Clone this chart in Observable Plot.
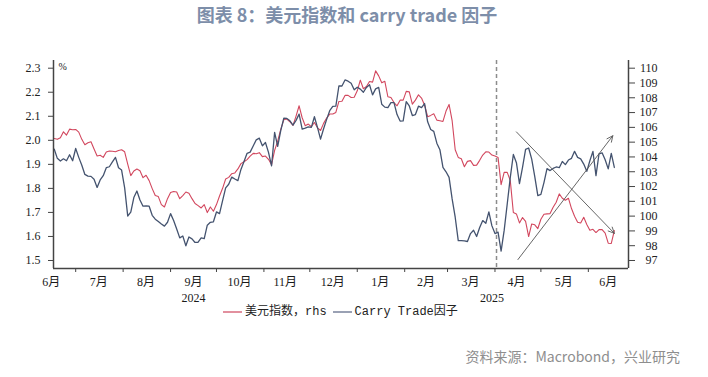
<!DOCTYPE html>
<html><head><meta charset="utf-8">
<script src="https://cdn.jsdelivr.net/npm/d3@7"></script>
<script src="https://cdn.jsdelivr.net/npm/@observablehq/plot@0.6"></script>
<style>
body{margin:0;background:#fff;}
#wrap{position:relative;width:708px;height:377px;overflow:hidden;font-family:"Noto Sans CJK SC","Noto Sans",sans-serif;}
#wrap svg{position:absolute;left:0;top:0;}
#title{position:absolute;left:0;top:2px;width:694px;text-align:center;font-size:18px;font-weight:bold;color:#7d8ea9;line-height:24px;}
#legend{position:absolute;left:223px;top:304px;font-size:12px;line-height:16px;color:#222;font-family:"Liberation Mono","Noto Sans CJK SC",monospace;white-space:nowrap;}
#legend .sw{display:inline-block;width:19px;height:2px;vertical-align:middle;margin-right:3px;}
#legend .item{display:inline-block;margin-right:6px;}
#source{position:absolute;right:28px;top:346px;font-size:14px;line-height:20px;color:#8e8e8e;}
</style></head>
<body>
<div id="wrap">
  <div id="title">图表 8：美元指数和 carry trade 因子</div>
  <div id="legend"></div>
  <div id="source">资料来源：Macrobond，兴业研究</div>
</div>
<script>
// ---- data ----
const dates = [
"2024-06-17","2024-06-19","2024-06-21","2024-06-23","2024-06-25","2024-06-27","2024-06-29",
"2024-07-01","2024-07-03","2024-07-05","2024-07-07","2024-07-09","2024-07-11","2024-07-13","2024-07-15","2024-07-17","2024-07-19","2024-07-21","2024-07-23","2024-07-25","2024-07-27","2024-07-29","2024-07-31",
"2024-08-02","2024-08-04","2024-08-06","2024-08-08","2024-08-10","2024-08-12","2024-08-14","2024-08-16","2024-08-18","2024-08-20","2024-08-22","2024-08-24","2024-08-26","2024-08-28","2024-08-30",
"2024-09-01","2024-09-03","2024-09-05","2024-09-07","2024-09-09","2024-09-11","2024-09-13","2024-09-15","2024-09-17","2024-09-19","2024-09-21","2024-09-23","2024-09-25","2024-09-27","2024-09-29",
"2024-10-01","2024-10-03","2024-10-05","2024-10-07","2024-10-09","2024-10-11",
"2024-10-13","2024-10-15","2024-10-17","2024-10-19","2024-10-21","2024-10-23","2024-10-25","2024-10-27","2024-10-29","2024-10-31",
"2024-11-02","2024-11-04","2024-11-06","2024-11-08","2024-11-10","2024-11-12","2024-11-14","2024-11-16","2024-11-18","2024-11-20","2024-11-22","2024-11-24","2024-11-26","2024-11-28","2024-11-30",
"2024-12-02","2024-12-04","2024-12-06","2024-12-08","2024-12-10","2024-12-12","2024-12-14","2024-12-16","2024-12-18","2024-12-20","2024-12-22","2024-12-24","2024-12-26","2024-12-28","2024-12-30",
"2025-01-01","2025-01-03","2025-01-05","2025-01-07","2025-01-09","2025-01-11","2025-01-13","2025-01-15","2025-01-17","2025-01-19","2025-01-21","2025-01-23","2025-01-25","2025-01-27","2025-01-29","2025-01-31",
"2025-02-02","2025-02-04","2025-02-06","2025-02-08","2025-02-10","2025-02-12","2025-02-14",
"2025-02-16","2025-02-18","2025-02-20","2025-02-22","2025-02-24","2025-02-26","2025-02-28",
"2025-03-02","2025-03-04","2025-03-06","2025-03-08","2025-03-10","2025-03-12","2025-03-14","2025-03-16","2025-03-18","2025-03-20","2025-03-22","2025-03-24","2025-03-26","2025-03-28","2025-03-30",
"2025-04-01","2025-04-03","2025-04-05","2025-04-07","2025-04-09","2025-04-11","2025-04-13","2025-04-15","2025-04-17","2025-04-19","2025-04-21","2025-04-23","2025-04-25","2025-04-27","2025-04-29",
"2025-05-01","2025-05-03","2025-05-05","2025-05-07","2025-05-09","2025-05-11","2025-05-13","2025-05-15","2025-05-17","2025-05-19","2025-05-21","2025-05-23","2025-05-25","2025-05-27","2025-05-29","2025-05-31",
"2025-06-02","2025-06-04","2025-06-06","2025-06-08","2025-06-10","2025-06-12","2025-06-14","2025-06-16","2025-06-18"
];
// Carry Trade factor (%), left axis
const carry = [
1.963,1.925,1.914,1.923,1.915,1.940,1.915,1.966,1.929,1.896,
1.858,1.851,1.850,1.838,1.804,1.835,1.853,1.886,1.890,1.910,
1.929,1.886,1.876,1.802,1.685,1.701,1.762,1.789,1.752,1.726,
1.727,1.726,1.688,1.672,1.662,1.652,1.643,1.659,1.695,1.666,
1.631,1.594,1.602,1.561,1.598,1.590,1.575,1.576,1.594,1.591,
1.647,1.659,1.661,1.702,1.695,1.749,1.802,1.817,1.847,
1.839,1.832,1.879,1.912,1.946,1.951,1.976,2.002,2.009,1.977,
1.991,1.950,1.894,2.033,1.975,2.040,2.092,2.091,2.081,2.063,
2.083,2.109,2.047,2.051,2.056,2.054,2.098,2.054,2.005,2.048,
2.087,2.123,2.141,2.142,2.226,2.226,2.251,2.246,2.237,2.210,
2.221,2.213,2.200,2.220,2.231,2.189,2.214,2.220,2.150,2.138,
2.136,2.157,2.157,2.107,2.080,2.081,2.161,2.143,2.103,2.107,2.142,2.136,2.153,
2.077,2.045,2.037,1.988,1.961,1.887,1.869,1.846,1.756,1.680,
1.583,1.583,1.582,1.579,1.612,1.626,1.600,1.637,1.666,1.655,
1.702,1.644,1.612,1.618,1.539,1.625,1.735,1.846,1.941,1.907,
1.820,1.887,1.962,1.968,1.922,1.849,1.770,1.775,1.824,1.882,
1.874,1.883,1.889,1.886,1.912,1.899,1.918,1.925,1.954,1.929,
1.923,1.901,1.871,1.915,1.954,1.853,1.944,1.948,1.919,1.881,1.946,1.887
];
// US dollar index, right axis
const dxy = [
105.25,105.19,105.30,105.70,105.48,105.88,105.84,105.86,105.68,105.19,
104.83,104.96,105.03,104.54,104.06,104.11,103.97,104.33,104.40,104.38,
104.35,104.44,104.49,104.35,103.52,102.74,103.05,103.18,103.07,102.60,
102.76,102.40,101.86,101.39,101.32,100.78,100.62,101.18,101.59,101.66,
101.63,101.18,101.39,101.63,101.54,101.18,100.85,100.71,100.55,100.78,
100.24,100.62,100.33,100.78,101.36,101.88,102.51,102.62,102.87,
102.92,103.19,103.55,103.68,103.82,104.06,104.24,104.22,104.29,104.02,
104.06,103.84,103.48,104.44,105.07,105.86,106.51,106.56,106.38,106.13,
106.76,107.46,106.65,106.11,106.22,106.04,106.33,105.97,105.79,106.27,
106.63,106.90,106.90,107.01,107.75,107.77,108.16,108.16,108.02,108.04,
108.47,109.19,108.61,108.76,109.10,109.06,109.82,109.48,109.01,109.12,
108.07,108.02,107.68,107.46,107.84,107.84,108.43,108.40,107.57,107.84,108.20,107.98,107.50,
106.72,106.81,106.92,106.49,106.45,106.40,107.10,107.55,106.45,104.49,
103.97,103.88,103.34,103.70,103.75,103.43,103.45,103.77,104.13,104.35,
104.33,104.13,104.06,103.97,102.13,102.96,102.96,102.40,100.24,100.15,
99.54,99.90,99.65,98.62,99.47,99.41,99.16,99.79,100.13,100.15,
100.17,100.60,100.94,101.50,101.21,101.07,101.21,100.51,99.99,99.59,
99.54,99.92,99.43,99.05,99.11,98.89,99.09,99.09,98.85,98.17,98.15,99.02
];
const leftTicks = [1.5,1.6,1.7,1.8,1.9,2.0,2.1,2.2,2.3];
const rightTicks = [97,98,99,100,101,102,103,104,105,106,107,108,109,110];
const monthStarts = ["2024-07-01","2024-08-01","2024-09-01","2024-10-01","2024-11-01","2024-12-01","2025-01-01","2025-02-01","2025-03-01","2025-04-01","2025-05-01","2025-06-01"];
const monthLabelDates = ["2024-06-15","2024-07-16","2024-08-16","2024-09-16","2024-10-16","2024-11-15","2024-12-16","2025-01-16","2025-02-15","2025-03-16","2025-04-15","2025-05-16","2025-06-14"];
const monthLabels = ["6月","7月","8月","9月","10月","11月","12月","1月","2月","3月","4月","5月","6月"];
const yearLabelDates = ["2024-09-16","2025-03-30"];
const yearLabels = ["2024","2025"];
const eventDate = ["2025-04-02"];
const arrowFrom = [["2025-04-15",2.035],["2025-04-16",1.504]];
const arrowTo = [["2025-06-18",1.613],["2025-06-17",2.019]];
const xDomain = ["2024-06-16T12:00Z","2025-06-27T06:00Z"];
const yDomain = [1.4667, 2.332];
const seriesNames = ["美元指数，rhs","Carry Trade因子"];
const seriesColors = ["#d2475e","#44536f"];
const legendColors = ["#e2909e","#9aa1b4"];

// right axis (97..110) aligned with left axis (1.5..2.3)
const toLeft = r => 1.5 + (r - 97) * 0.8 / 13;

const rows = dates.map((d, i) => ({date: new Date(d), carry: carry[i], dxy: dxy[i]}));
const arrows = arrowFrom.map((a, i) => ({x1: new Date(a[0]), y1: a[1], x2: new Date(arrowTo[i][0]), y2: arrowTo[i][1]}));
const monthTickRows = monthLabelDates.map((d, i) => ({date: new Date(d), label: monthLabels[i]}));
const yearRows = yearLabelDates.map((d, i) => ({date: new Date(d), label: yearLabels[i]}));
const xd = xDomain.map(d => new Date(d));
const serif = '"Liberation Serif","Noto Sans CJK SC",serif';

const chart = Plot.plot({
  width: 708, height: 377,
  marginLeft: 53, marginRight: 80, marginTop: 60, marginBottom: 109,
  style: {color: "#222", background: "transparent"},
  x: {type: "utc", domain: xd},
  y: {domain: yDomain},
  marks: [
    Plot.ruleX(eventDate.map(d => new Date(d)), {stroke: "#8c8c8c", strokeWidth: 1.5, strokeDasharray: "4,3"}),
    Plot.lineY(rows, {x: "date", y: d => toLeft(d.dxy), stroke: seriesColors[0], strokeWidth: 1.1}),
    Plot.lineY(rows, {x: "date", y: "carry", stroke: seriesColors[1], strokeWidth: 1.3}),
    Plot.arrow(arrows, {x1: "x1", y1: "y1", x2: "x2", y2: "y2", stroke: "#555", strokeWidth: 0.9, headLength: 11, headAngle: 50}),
    Plot.ruleX([xd[0]], {stroke: "#444", strokeWidth: 1.5}),
    Plot.ruleX([xd[1]], {stroke: "#444", strokeWidth: 1.5}),
    Plot.ruleY([yDomain[0]], {stroke: "#444", strokeWidth: 1.5}),
    Plot.axisY(leftTicks, {anchor: "left", tickSize: 5, tickPadding: 8, tickFormat: d => d.toFixed(1), fontFamily: serif, fontSize: 12, stroke: "#444"}),
    Plot.axisY(rightTicks.map(toLeft), {anchor: "right", tickSize: 6, tickPadding: 23, textAnchor: "end",
      tickFormat: (d, i) => String(rightTicks[i] ?? Math.round(97 + (d - 1.5) * 13 / 0.8)), fontFamily: serif, fontSize: 12, stroke: "#444"}),
    Plot.axisX(monthStarts.map(d => new Date(d)), {tickSize: 4, tickFormat: () => "", stroke: "#444"}),
    Plot.text(monthTickRows, {x: "date", text: "label", frameAnchor: "bottom", dy: 14, lineAnchor: "middle", fontFamily: serif, fontSize: 12, fill: "#1a1a1a"}),
    Plot.text(yearRows, {x: "date", text: "label", frameAnchor: "bottom", dy: 30, lineAnchor: "middle", fontFamily: serif, fontSize: 12, fill: "#1a1a1a"}),
    Plot.text(["%"], {frameAnchor: "top-left", dx: 5, dy: 6, textAnchor: "start", lineAnchor: "middle", fontFamily: serif, fontSize: 10, fill: "#222"})
  ]
});
const wrap = document.getElementById("wrap");
wrap.insertBefore(chart, wrap.firstChild);

const legend = document.getElementById("legend");
seriesNames.forEach((name, i) => {
  const item = document.createElement("span");
  item.className = "item";
  const sw = document.createElement("span");
  sw.className = "sw";
  sw.style.background = legendColors[i];
  item.appendChild(sw);
  item.appendChild(document.createTextNode(name));
  legend.appendChild(item);
});
</script>
</body></html>
